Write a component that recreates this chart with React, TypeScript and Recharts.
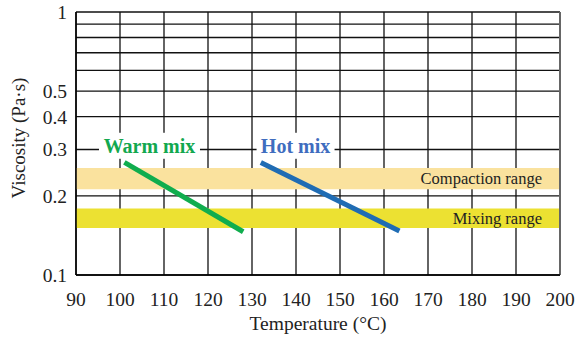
import { LineChart, Line, XAxis, YAxis, CartesianGrid, ReferenceArea, ReferenceLine, ReferenceDot } from "recharts";

const tempTicks = [90, 100, 110, 120, 130, 140, 150, 160, 170, 180, 190, 200];
const viscGrid = [0.1, 0.2, 0.3, 0.4, 0.5, 0.6, 0.7, 0.8, 0.9, 1];
const viscLabels = [0.1, 0.2, 0.3, 0.4, 0.5, 1];

const warmTemp = [101, 128];
const warmVisc = [0.268, 0.146];
const hotTemp = [132, 163.5];
const hotVisc = [0.268, 0.147];

const compactionRange = [0.212, 0.255];
const mixingRange = [0.151, 0.179];

const warmData = warmTemp.map((t, i) => ({ t, v: warmVisc[i] }));
const hotData = hotTemp.map((t, i) => ({ t, v: hotVisc[i] }));

const serif = "'Liberation Serif', 'Times New Roman', serif";

const TagLabel = ({ cx, cy, text, color, w }: any) => (
    <g>
        <rect x={cx - w / 2 - 3} y={cy - 13} width={w + 6} height={26} fill="#fff" />
        <text x={cx} y={cy + 7} textAnchor="middle" fill={color} fontFamily={serif} fontWeight="bold" fontSize={20}>
            {text}
        </text>
    </g>
);

// right-aligned text inside a band
const bandLabel = (text: string) => (props: any) => {
    const vb = props.viewBox;
    return (
        <text x={vb.x + vb.width - 18} y={vb.y + vb.height / 2 + 5.5} textAnchor="end" fill="#222" fontSize={16.5} fontFamily={serif}>
            {text}
        </text>
    );
};

export default function App() {
    return (
        <div style={{ position: "absolute", left: 0, top: 0, background: "#fff" }}>
            <LineChart width={580} height={342} margin={{ top: 12, right: 20, left: 0, bottom: 0 }}>
                <CartesianGrid stroke="#111" strokeWidth={1.3} />
                <ReferenceArea y1={compactionRange[0]} y2={compactionRange[1]} fill="#fae29e" fillOpacity={1} stroke="none"
                    label={bandLabel("Compaction range")} />
                <ReferenceArea y1={mixingRange[0]} y2={mixingRange[1]} fill="#ece132" fillOpacity={1} stroke="none"
                    label={bandLabel("Mixing range")} />
                <ReferenceLine x={200} stroke="#666" strokeWidth={2} />
                <XAxis dataKey="t" type="number" domain={[90, 200]} ticks={tempTicks} interval={0}
                    tickLine={false} tickMargin={11} axisLine={{ stroke: "#000", strokeWidth: 1.5 }} height={67}
                    tick={{ fill: "#222", fontSize: 19.5, fontFamily: serif }}
                    label={(props: any) => {
                        const vb = props.viewBox;
                        return (
                            <text x={vb.x + vb.width / 2} y={330} textAnchor="middle" fill="#222" fontSize={19.5} fontFamily={serif}>
                                Temperature (°C)
                            </text>
                        );
                    }} />
                <YAxis scale="log" domain={[0.1, 1]} ticks={viscGrid} interval={0} width={76}
                    tickFormatter={(v: number) => (viscLabels.includes(v) ? String(v) : "")}
                    tickLine={false} tickMargin={3} axisLine={{ stroke: "#000", strokeWidth: 1.5 }}
                    tick={{ fill: "#222", fontSize: 19.5, fontFamily: serif }}
                    label={() => (
                        <text x={25} y={138} transform="rotate(-90, 25, 138)" textAnchor="middle" fill="#222" fontSize={19} fontFamily={serif}>
                            Viscosity (Pa·s)
                        </text>
                    )} />
                <Line data={warmData} dataKey="v" stroke="#10ad4e" strokeWidth={5} dot={false} isAnimationActive={false} />
                <Line data={hotData} dataKey="v" stroke="#1f6cb4" strokeWidth={5} dot={false} isAnimationActive={false} />
                <ReferenceDot x={106.7} y={0.31} r={0}
                    shape={(p: any) => <TagLabel cx={p.cx} cy={p.cy} text="Warm mix" color="#12a84f" w={95} />} />
                <ReferenceDot x={139.9} y={0.31} r={0}
                    shape={(p: any) => <TagLabel cx={p.cx} cy={p.cy} text="Hot mix" color="#3f6dbf" w={72} />} />
            </LineChart>
        </div>
    );
}
